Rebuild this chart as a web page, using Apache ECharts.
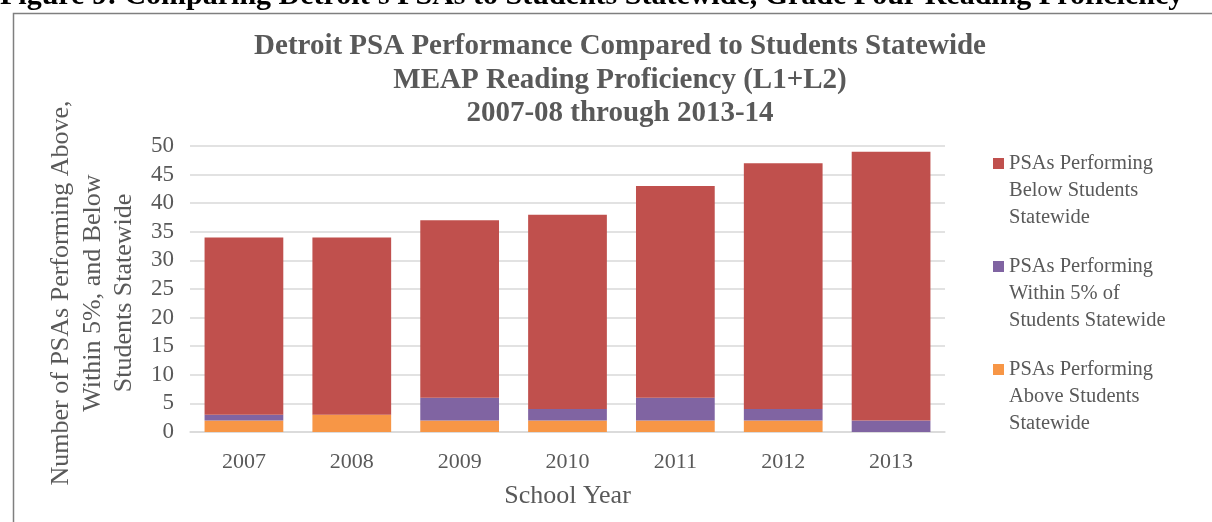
<!DOCTYPE html>
<html>
<head>
<meta charset="utf-8">
<script src="https://cdn.jsdelivr.net/npm/echarts@6/dist/echarts.min.js"></script>
<style>
  html, body { margin: 0; padding: 0; background: #fff; }
  #chart { width: 1212px; height: 522px; }
</style>
</head>
<body>
<div id="chart"></div>
<script>
const years = ['2007', '2008', '2009', '2010', '2011', '2012', '2013']
const aboveCounts = [2, 3, 2, 2, 2, 2, 0]
const withinCounts = [1, 0, 4, 2, 4, 2, 2]
const belowCounts = [31, 31, 31, 34, 37, 43, 47]
const yTicks = [0, 5, 10, 15, 20, 25, 30, 35, 40, 45, 50]

const serif = '"Liberation Serif", "DejaVu Serif", serif'
const gray = '#595959'

// two leading blank lines so the legend square sits beside the first text line
const names = {
  below: '\n\nPSAs Performing\nBelow Students\nStatewide',
  within: '\n\nPSAs Performing\nWithin 5% of\nStudents Statewide',
  above: '\n\nPSAs Performing\nAbove Students\nStatewide'
}

const chart = echarts.init(document.getElementById('chart'))

const option = {
  backgroundColor: '#fff',
  animation: false,
  title: {
    text: 'Detroit PSA Performance Compared to Students Statewide\nMEAP Reading Proficiency (L1+L2)\n2007-08 through 2013-14',
    left: 620,
    top: 30,
    padding: 0,
    textAlign: 'center',
    textStyle: {
      fontFamily: serif,
      fontSize: 29,
      fontWeight: 'bold',
      color: gray,
      lineHeight: 33.5
    }
  },
  legend: {
    orient: 'vertical',
    left: 988,
    top: 91,
    itemWidth: 11,
    itemHeight: 11,
    itemGap: -32,
    icon: 'rect',
    data: [names.below, names.within, names.above],
    textStyle: {
      fontFamily: serif,
      fontSize: 20.5,
      color: gray,
      lineHeight: 27
    }
  },
  grid: {
    left: 190,
    right: 267,
    top: 146,
    bottom: 90
  },
  xAxis: {
    type: 'category',
    data: years,
    name: 'School Year',
    nameLocation: 'middle',
    nameGap: 51,
    nameTextStyle: { fontFamily: serif, fontSize: 26, color: gray },
    axisLine: { lineStyle: { color: '#d9d9d9', width: 1.5 } },
    axisTick: { show: false },
    axisLabel: { fontFamily: serif, fontSize: 22, color: gray, margin: 19 }
  },
  yAxis: {
    type: 'value',
    min: yTicks[0],
    max: yTicks[yTicks.length - 1],
    interval: yTicks[1] - yTicks[0],
    name: 'Number of PSAs Performing Above,\nWithin 5%, and Below\nStudents Statewide',
    nameLocation: 'middle',
    nameGap: 47,
    nameTextStyle: { fontFamily: serif, fontSize: 26, color: gray, lineHeight: 31.5, padding: [0, 8, 0, 0] },
    axisLine: { show: false },
    axisTick: { show: false },
    axisLabel: { fontFamily: serif, fontSize: 23, color: gray, margin: 16 },
    splitLine: { lineStyle: { color: '#d9d9d9', width: 1.5 } }
  },
  series: [
    {
      name: names.above,
      type: 'bar',
      stack: 'total',
      barWidth: '73%',
      data: aboveCounts,
      itemStyle: { color: '#F79646' }
    },
    {
      name: names.within,
      type: 'bar',
      stack: 'total',
      data: withinCounts,
      itemStyle: { color: '#8064A2' }
    },
    {
      name: names.below,
      type: 'bar',
      stack: 'total',
      data: belowCounts,
      itemStyle: { color: '#C0504D' }
    }
  ],
  graphic: [
    {
      type: 'rect',
      left: 11,
      top: 11,
      shape: { width: 1400, height: 700 },
      style: { fill: 'none', stroke: '#7f7f7f', lineWidth: 1.5 },
      silent: true
    },
    {
      type: 'text',
      x: 0,
      y: -4,
      style: {
        text: "Figure 9: Comparing Detroit's PSAs to Students Statewide, Grade Four Reading Proficiency",
        fontFamily: serif,
        fontSize: 30,
        fontWeight: 'bold',
        fill: '#000',
        verticalAlign: 'middle'
      },
      silent: true
    }
  ]
}

chart.setOption(option)
</script>
</body>
</html>
